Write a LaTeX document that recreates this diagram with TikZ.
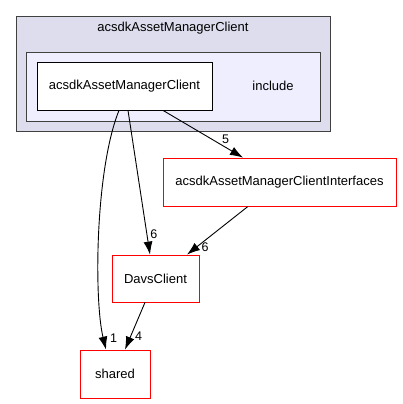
\documentclass[tikz,border=0pt]{standalone}
\usepackage{fontspec}
\setmainfont{Liberation Sans}
\usetikzlibrary{arrows.meta}
\definecolor{outerfill}{HTML}{DDDDEE}
\definecolor{innerfill}{HTML}{EEEEFF}
\definecolor{clborder}{HTML}{404040}
\begin{document}
\begin{tikzpicture}[x=1pt,y=-1pt,
  every node/.style={font=\fontsize{13}{15}\selectfont, inner sep=0pt},
  redbox/.style={draw=red, fill=white, line width=0.8pt},
  edge/.style={draw=black, line width=0.9pt, -{Latex[length=13pt,width=9pt]}},
  lbl/.style={font=\fontsize{12.5}{14}\selectfont}]
\useasboundingbox (0,0) rectangle (402,404);
\fill[white] (0,0) rectangle (402,404);
% clusters
\node[draw=clborder, fill=outerfill, line width=0.8pt, minimum width=314pt, minimum height=115pt, anchor=north west] (outer) at (16,16) {};
\node (outertitle) at (173,28) {acsdkAssetManagerClient};
\node[draw=clborder, fill=innerfill, line width=0.8pt, minimum width=294pt, minimum height=69pt, anchor=north west] (inner) at (26,52) {};
\node (include) at (273,86) {include};
% nodes
\node[draw=black, fill=white, line width=0.8pt, minimum width=175pt, minimum height=48pt] (client) at (124.5,86) {acsdkAssetManagerClient};
\node[redbox, minimum width=233pt, minimum height=48pt] (ifaces) at (279.5,182) {acsdkAssetManagerClientInterfaces};
\node[redbox, minimum width=87pt, minimum height=47pt] (davs) at (155.5,278.5) {DavsClient};
\node[redbox, minimum width=70pt, minimum height=48pt] (shared) at (115,374) {shared};
% edges
\draw[edge] (119,0 |- client.south) .. controls (95,170) and (94,300) .. (106,0 |- shared.north) node[pos=0.93, anchor=west, xshift=6pt, lbl] (l1) {1};
\draw[edge] (128,0 |- client.south) -- (150,0 |- davs.north) node[pos=0.86, anchor=west, xshift=3pt, lbl] (l6a) {6};
\draw[edge] (163,0 |- client.south) -- (243,0 |- ifaces.north) node[pos=0.72, anchor=south west, xshift=1pt, lbl] (l5) {5};
\draw[edge] (248,0 |- ifaces.south) -- (187,0 |- davs.north) node[pos=0.85, anchor=west, xshift=5pt, lbl] (l6b) {6};
\draw[edge] (145,0 |- davs.south) -- (125,0 |- shared.north) node[pos=0.72, anchor=west, xshift=4pt, lbl] (l4) {4};
\end{tikzpicture}
\end{document}
